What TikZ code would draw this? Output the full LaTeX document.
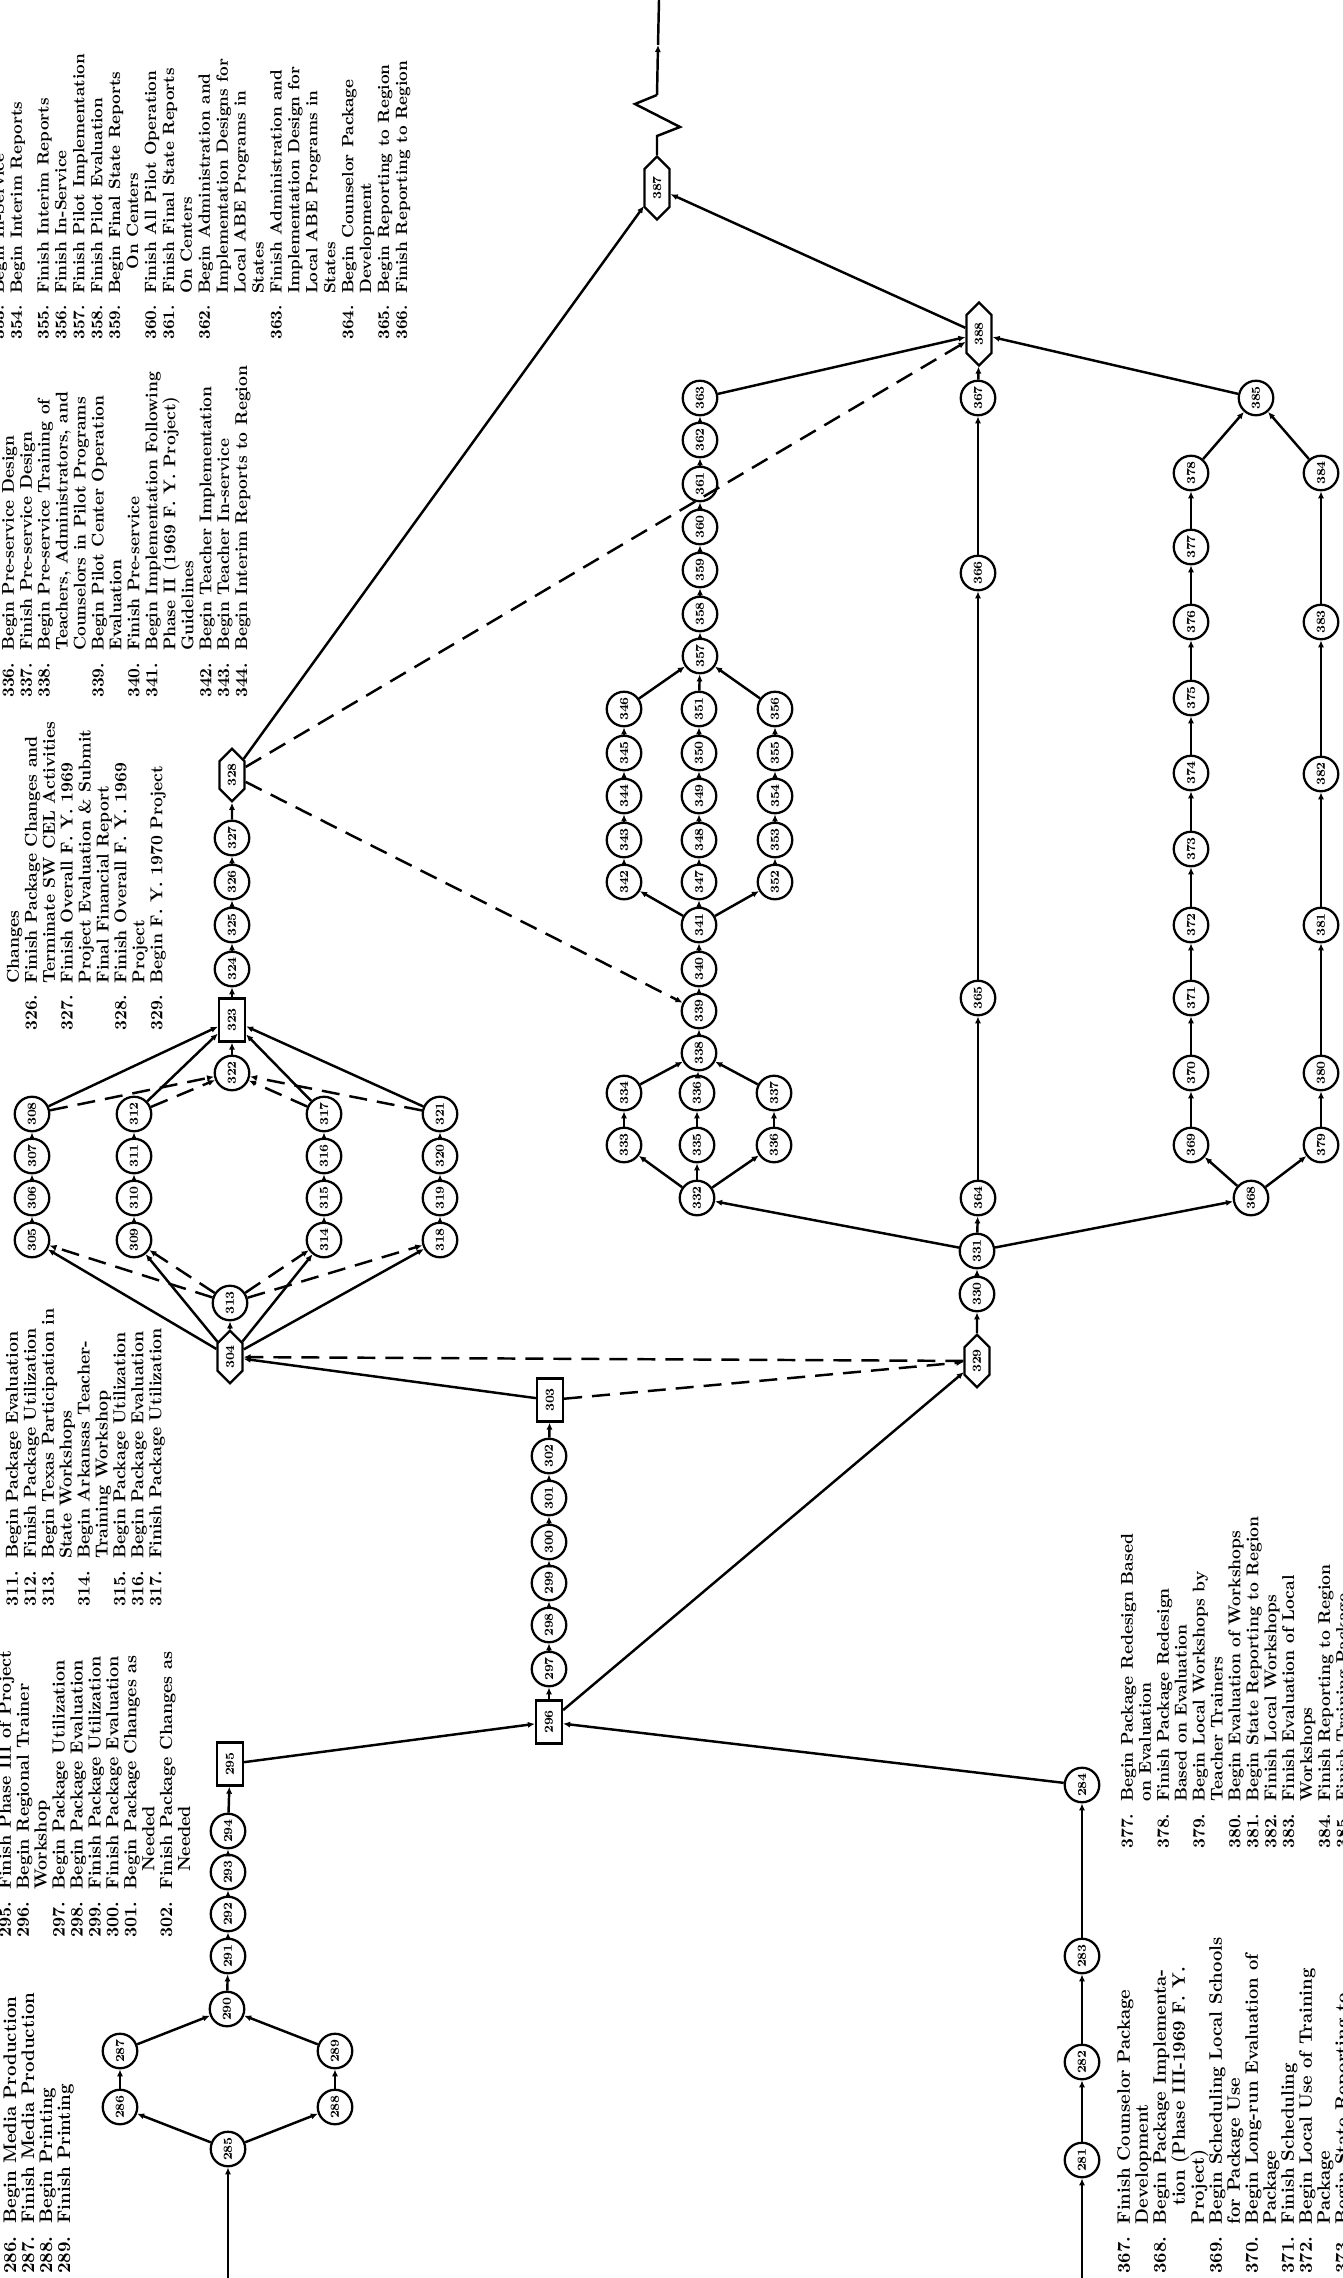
\documentclass[tikz,border=0pt]{standalone}
\usetikzlibrary{shapes.symbols,arrows.meta}
\begin{document}
\begin{tikzpicture}[x=0.2mm,y=-0.2mm]
	\tikzstyle{myevent}=[draw,circle,line width=1.3pt,minimum size=6.9mm,inner sep=0pt,rotate=90,font=\fontsize{7}{7}\selectfont\bfseries]
	\tikzstyle{mybox}=[draw,rectangle,line width=1.3pt,minimum width=8.6mm,minimum height=5.2mm,inner sep=1pt,rotate=90,font=\fontsize{7}{7}\selectfont\bfseries]
	\tikzstyle{myhex}=[draw,signal,signal to=east and west,line width=1.3pt,minimum width=10mm,minimum height=5mm,inner sep=1pt,rotate=90,font=\fontsize{7}{7}\selectfont\bfseries]
	\tikzstyle{myarrow}=[line width=1.4pt,-{Latex[length=4pt,width=3.5pt]}]
	\tikzstyle{mydashed}=[myarrow,dash pattern=on 3.6mm off 2mm]
	\tikzstyle{mylegend}=[rotate=90,anchor=north west,inner sep=0pt,align=left]

	\useasboundingbox (0,0) rectangle (1342,2278);

	% notes
	\node[mylegend,font=\fontsize{10.4}{10.2}\selectfont\bfseries] (notesA) at (3,2274) {\begin{tabular}{@{}r@{\hspace{0.7em}}l@{}}
		286. & Begin Media Production\\
		287. & Finish Media Production\\
		288. & Begin Printing\\
		289. & Finish Printing
	\end{tabular}};
	\node[mylegend,font=\fontsize{10}{10.2}\selectfont\bfseries] (notesB) at (-2,1938) {\begin{tabular}{@{}r@{\hspace{0.7em}}l@{}}
		295. & Finish Phase III of Project\\
		296. & Begin Regional Trainer\\
		     & Workshop\\
		297. & Begin Package Utilization\\
		298. & Begin Package Evaluation\\
		299. & Finish Package Utilization\\
		300. & Finish Package Evaluation\\
		301. & Begin Package Changes as\\
		     & \hspace{1em}Needed\\
		302. & Finish Package Changes as\\
		     & \hspace{1em}Needed
	\end{tabular}};
	\node[mylegend,font=\fontsize{9.9}{10.2}\selectfont\bfseries] (notesC) at (5,1607) {\begin{tabular}{@{}r@{\hspace{0.7em}}l@{}}
		311. & Begin Package Evaluation\\
		312. & Finish Package Utilization\\
		313. & Begin Texas Participation in\\
		     & State Workshops\\
		314. & Begin Arkansas Teacher-\\
		     & Training Workshop\\
		315. & Begin Package Utilization\\
		316. & Begin Package Evaluation\\
		317. & Finish Package Utilization
	\end{tabular}};
	\node[mylegend,font=\fontsize{9.8}{10.2}\selectfont\bfseries] (notesD) at (6,1031) {\begin{tabular}{@{}r@{\hspace{0.7em}}l@{}}
		     & Changes\\
		326. & Finish Package Changes and\\
		     & Terminate SW CEL Activities\\
		327. & Finish Overall F. Y. 1969\\
		     & Project Evaluation \& Submit\\
		     & Final Financial Report\\
		328. & Finish Overall F. Y. 1969\\
		     & Project\\
		329. & Begin F. Y. 1970 Project
	\end{tabular}};
	\node[mylegend,font=\fontsize{9.7}{10.2}\selectfont\bfseries] (notesE) at (1,698) {\begin{tabular}{@{}r@{\hspace{0.7em}}l@{}}
		336. & Begin Pre-service Design\\
		337. & Finish Pre-service Design\\
		338. & Begin Pre-service Training of\\
		     & Teachers, Administrators, and\\
		     & Counselors in Pilot Programs\\
		339. & Begin Pilot Center Operation\\
		     & Evaluation\\
		340. & Finish Pre-service\\
		341. & Begin Implementation Following\\
		     & Phase II (1969 F. Y. Project)\\
		     & Guidelines\\
		342. & Begin Teacher Implementation\\
		343. & Begin Teacher In-service\\
		344. & Begin Interim Reports to Region
	\end{tabular}};
	\node[mylegend,font=\fontsize{9.3}{10.2}\selectfont\bfseries] (notesF) at (-9,340) {\begin{tabular}{@{}r@{\hspace{0.7em}}l@{}}
		353. & Begin In-Service\\
		354. & Begin Interim Reports\\[5pt]
		355. & Finish Interim Reports\\
		356. & Finish In-Service\\
		357. & Finish Pilot Implementation\\
		358. & Finish Pilot Evaluation\\
		359. & Begin Final State Reports\\
		     & \hspace{1.5em}On Centers\\
		360. & Finish All Pilot Operation\\
		361. & Finish Final State Reports\\
		     & On Centers\\
		362. & Begin Administration and\\
		     & Implementation Designs for\\
		     & Local ABE Programs in\\
		     & States\\
		363. & Finish Administration and\\
		     & Implementation Design for\\
		     & Local ABE Programs in\\
		     & States\\
		364. & Begin Counselor Package\\
		     & Development\\
		365. & Begin Reporting to Region\\
		366. & Finish Reporting to Region
	\end{tabular}};
	\node[mylegend,font=\fontsize{10.3}{10.2}\selectfont\bfseries] (notesG) at (1117,2274) {\begin{tabular}{@{}r@{\hspace{0.7em}}l@{}}
		367. & Finish Counselor Package\\
		     & Development\\
		368. & Begin Package Implementa-\\
		     & \hspace{1em}tion (Phase III-1969 F. Y.\\
		     & Project)\\
		369. & Begin Scheduling Local Schools\\
		     & for Package Use\\
		370. & Begin Long-run Evaluation of\\
		     & Package\\
		371. & Finish Scheduling\\
		372. & Begin Local Use of Training\\
		     & Package\\
		373. & Begin State Reporting to
	\end{tabular}};
	\node[mylegend,font=\fontsize{9.75}{10.2}\selectfont\bfseries] (notesH) at (1120,1849) {\begin{tabular}{@{}r@{\hspace{0.7em}}l@{}}
		377. & Begin Package Redesign Based\\
		     & on Evaluation\\
		378. & Finish Package Redesign\\
		     & Based on Evaluation\\
		379. & Begin Local Workshops by\\
		     & Teacher Trainers\\
		380. & Begin Evaluation of Workshops\\
		381. & Begin State Reporting to Region\\
		382. & Finish Local Workshops\\
		383. & Finish Evaluation of Local\\
		     & Workshops\\
		384. & Finish Reporting to Region\\
		385. & Finish Training Package
	\end{tabular}};

	% phase III part
	\coordinate (start1) at (228,2278);
	\coordinate (start2) at (1082,2278);
	\node[myevent] (n285) at (228,2149) {285};
	\node[myevent] (n286) at (120,2107) {286};
	\node[myevent] (n287) at (120,2051) {287};
	\node[myevent] (n288) at (335,2107) {288};
	\node[myevent] (n289) at (335,2051) {289};
	\node[myevent] (n290) at (227,2009) {290};
	\foreach \n / \y in {291/1956,292/1914,293/1872,294/1831} {\node[myevent] (n\n) at (228,\y) {\n};}
	\node[mybox] (n295) at (230,1764) {295};
	\node[mybox] (n296) at (549,1722) {296};
	\foreach \n / \y in {297/1669,298/1625,299/1583,300/1542,301/1498,302/1456} {\node[myevent] (n\n) at (549,\y) {\n};}
	\node[mybox] (n303) at (550,1400) {303};
	\foreach \n / \y in {281/2160,282/2062,283/1956,284/1785} {\node[myevent] (n\n) at (1082,\y) {\n};}

	% state workshops
	\node[myhex] (n304) at (230,1357) {304};
	\node[myevent] (n313) at (230,1303) {313};
	\foreach \a / \b / \c / \d / \x in {305/306/307/308/32,309/310/311/312/134,314/315/316/317/324,318/319/320/321/440} {
		\node[myevent] (n\a) at (\x,1240) {\a};
		\node[myevent] (n\b) at (\x,1198) {\b};
		\node[myevent] (n\c) at (\x,1156) {\c};
		\node[myevent] (n\d) at (\x,1114) {\d};
	}
	\node[myevent] (n322) at (232,1073) {322};
	\node[mybox] (n323) at (232,1020) {323};
	\foreach \n / \y in {324/969,325/925,326/882,327/838} {\node[myevent] (n\n) at (232,\y) {\n};}
	\node[myhex] (n328) at (232,775) {328};

	% F.Y. 1970 project
	\node[myhex] (n329) at (977,1361) {329};
	\node[myevent] (n330) at (977,1294) {330};
	\node[myevent] (n331) at (977,1251) {331};
	\node[myevent] (n332) at (697,1198) {332};
	\node[myevent] (pdl1) at (624,1145) {333};
	\node[myevent] (pdl2) at (624,1093) {334};
	\node[myevent] (pdm1) at (697,1145) {335};
	\node[myevent] (pdm2) at (697,1093) {336};
	\node[myevent] (pdr1) at (774,1145) {336};
	\node[myevent] (pdr2) at (774,1093) {337};
	\node[myevent] (n338) at (699,1053) {338};
	\node[myevent] (n339) at (699,1011) {339};
	\node[myevent] (n340) at (699,969) {340};
	\node[myevent] (n341) at (699,925) {341};
	\foreach \a / \b / \c / \d / \e / \x in {342/343/344/345/346/624,347/348/349/350/351/699,352/353/354/355/356/775} {
		\node[myevent] (n\a) at (\x,882) {\a};
		\node[myevent] (n\b) at (\x,840) {\b};
		\node[myevent] (n\c) at (\x,796) {\c};
		\node[myevent] (n\d) at (\x,753) {\d};
		\node[myevent] (n\e) at (\x,709) {\e};
	}
	\foreach \n / \y in {357/656,358/614,359/570,360/527,361/484,362/440,363/398} {\node[myevent] (n\n) at (700,\y) {\n};}
	\foreach \n / \y in {364/1198,365/998,366/573,367/398} {\node[myevent] (n\n) at (978,\y) {\n};}
	\node[myevent] (n368) at (1251,1198) {368};
	\foreach \n / \y in {369/1145,370/1073,371/998,372/925,373/849,374/773,375/698,376/622,377/547,378/473} {\node[myevent] (n\n) at (1191,\y) {\n};}
	\foreach \n / \y in {379/1145,380/1073,381/925,382/774,383/622,384/473} {\node[myevent] (n\n) at (1321,\y) {\n};}
	\node[myevent] (n385) at (1256,398) {385};
	\node[myhex,minimum width=12.6mm] (n388) at (979,334) {388};
	\node[myhex,minimum width=12.6mm] (n387) at (657,188) {387};

	% connectors
	\draw[myarrow] (start1) -- (n285);
	\draw[myarrow] (start2) -- (n281);
	\foreach \a / \b in {285/286,286/287,287/290,285/288,288/289,289/290,290/291,291/292,292/293,293/294,294/295,295/296,
		296/297,297/298,298/299,299/300,300/301,301/302,302/303,303/304,281/282,282/283,283/284,284/296,296/329,
		304/313,304/305,304/309,304/314,304/318,305/306,306/307,307/308,309/310,310/311,311/312,314/315,315/316,316/317,
		318/319,319/320,320/321,308/323,312/323,317/323,321/323,322/323,323/324,324/325,325/326,326/327,327/328,328/387,
		329/330,330/331,331/332,338/339,339/340,340/341,341/342,341/347,341/352,
		342/343,343/344,344/345,345/346,347/348,348/349,349/350,350/351,352/353,353/354,354/355,355/356,
		346/357,351/357,356/357,357/358,358/359,359/360,360/361,361/362,362/363,363/388,
		331/364,364/365,365/366,366/367,367/388,331/368,
		368/369,369/370,370/371,371/372,372/373,373/374,374/375,375/376,376/377,377/378,378/385,
		368/379,379/380,380/381,381/382,382/383,383/384,384/385,385/388,388/387}
		{\draw[myarrow] (n\a) -- (n\b);}
	\foreach \a / \b in {n332/pdl1,pdl1/pdl2,pdl2/n338,n332/pdm1,pdm1/pdm2,pdm2/n338,n332/pdr1,pdr1/pdr2,pdr2/n338}
		{\draw[myarrow] (\a) -- (\b);}
	\foreach \a / \b in {313/305,313/309,313/314,313/318,308/322,312/322,317/322,321/322,329/304,303/329,328/388,328/339}
		{\draw[mydashed] (n\a) -- (n\b);}

	% continuation at the top
	\coordinate (z1) at (657,136);
	\coordinate (z2) at (680,127);
	\coordinate (z3) at (635,104);
	\coordinate (z4) at (657,95);
	\coordinate (z5) at (658,45);
	\coordinate (top) at (659,0);
	\draw[line width=1.4pt] (n387) -- (z1) -- (z2) -- (z3) -- (z4);
	\draw[myarrow] (z4) -- (z5);
	\draw[line width=1.4pt] (z5) -- (top);
\end{tikzpicture}
\end{document}
